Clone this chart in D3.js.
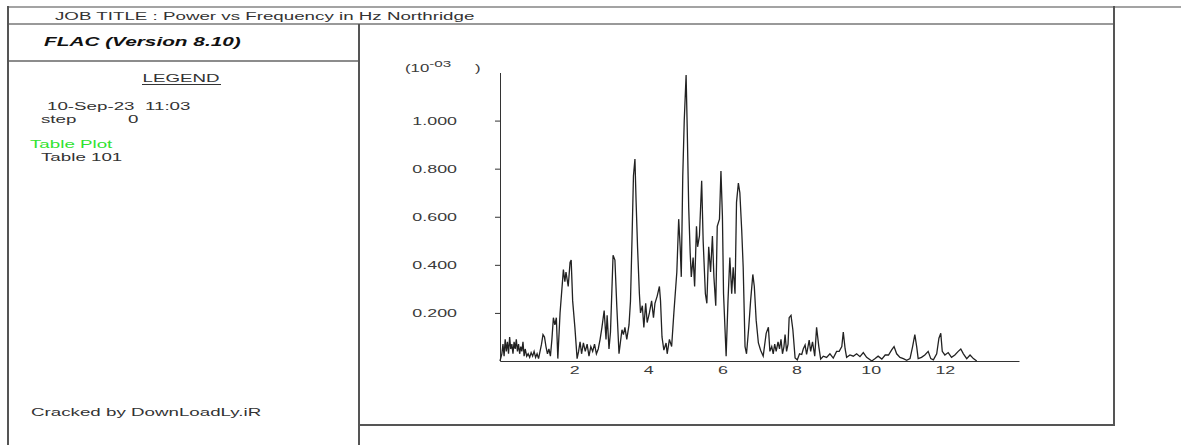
<!DOCTYPE html>
<html>
<head>
<meta charset="utf-8">
<script src="https://cdn.jsdelivr.net/npm/d3@7"></script>
<style>
  html, body { margin: 0; padding: 0; background: #fff; }
  svg { display: block; }
  text { font-family: "Liberation Sans", Arial, sans-serif; fill: #333; white-space: pre; }
</style>
</head>
<body>
<div id="chart"></div>
<script>
// Power spectrum, Table 101 (frequency in Hz, power in units of 1e-3)
const freqHz = [
  0.00, 0.05, 0.08, 0.11, 0.14, 0.17, 0.20, 0.23, 0.26, 0.29, 0.32, 0.35, 0.38, 0.41, 0.44, 0.47,
  0.50, 0.53, 0.56, 0.59, 0.62, 0.65, 0.68, 0.72, 0.76, 0.80, 0.84, 0.88, 0.92, 0.96, 1.00, 1.04,
  1.08, 1.12, 1.16, 1.20, 1.24, 1.28, 1.32, 1.36, 1.40, 1.44, 1.48, 1.52, 1.56, 1.62, 1.67, 1.71,
  1.75, 1.78, 1.84, 1.89, 1.92, 1.96, 2.02, 2.08, 2.12, 2.16, 2.20, 2.25, 2.30, 2.35, 2.40, 2.45,
  2.50, 2.55, 2.60, 2.65, 2.70, 2.75, 2.81, 2.86, 2.89, 2.94, 2.98, 3.05, 3.10, 3.15, 3.21, 3.29,
  3.33, 3.37, 3.42, 3.48, 3.52, 3.56, 3.60, 3.64, 3.67, 3.71, 3.76, 3.79, 3.84, 3.88, 3.93, 3.97,
  4.03, 4.09, 4.14, 4.18, 4.24, 4.30, 4.33, 4.37, 4.42, 4.48, 4.51, 4.57, 4.63, 4.69, 4.77, 4.82,
  4.86, 4.89, 4.93, 4.97, 5.02, 5.05, 5.09, 5.13, 5.16, 5.21, 5.25, 5.30, 5.33, 5.38, 5.44, 5.48,
  5.54, 5.58, 5.63, 5.68, 5.73, 5.77, 5.82, 5.86, 5.92, 5.96, 6.00, 6.03, 6.10, 6.15, 6.20, 6.25,
  6.29, 6.34, 6.38, 6.43, 6.47, 6.52, 6.56, 6.61, 6.65, 6.71, 6.76, 6.82, 6.86, 6.91, 6.97, 7.03,
  7.10, 7.18, 7.24, 7.28, 7.33, 7.37, 7.41, 7.45, 7.50, 7.54, 7.58, 7.62, 7.66, 7.69, 7.73, 7.77,
  7.80, 7.85, 7.90, 7.96, 8.02, 8.08, 8.14, 8.18, 8.23, 8.27, 8.34, 8.38, 8.43, 8.49, 8.54, 8.60,
  8.65, 8.72, 8.81, 8.90, 8.99, 9.08, 9.15, 9.22, 9.26, 9.31, 9.35, 9.44, 9.53, 9.62, 9.71, 9.80,
  9.89, 10.03, 10.12, 10.20, 10.30, 10.39, 10.48, 10.57, 10.63, 10.70, 10.79, 10.88, 10.97, 11.06, 11.13, 11.19,
  11.24, 11.28, 11.37, 11.46, 11.55, 11.62, 11.69, 11.78, 11.84, 11.89, 11.93, 12.00, 12.09, 12.18, 12.27, 12.36,
  12.43, 12.50, 12.59, 12.68, 12.77, 12.86
];
const powerE3 = [
  0.00, 0.03, 0.07, 0.02, 0.09, 0.04, 0.08, 0.03, 0.10, 0.05, 0.07, 0.03, 0.08, 0.05, 0.09, 0.04,
  0.07, 0.03, 0.06, 0.04, 0.08, 0.02, 0.05, 0.02, 0.03, 0.015, 0.035, 0.02, 0.04, 0.015, 0.03, 0.01,
  0.04, 0.07, 0.11, 0.10, 0.06, 0.03, 0.05, 0.02, 0.09, 0.18, 0.15, 0.18, 0.01, 0.20, 0.30, 0.38,
  0.33, 0.37, 0.31, 0.41, 0.42, 0.25, 0.14, 0.01, 0.04, 0.08, 0.03, 0.075, 0.04, 0.07, 0.02, 0.06,
  0.04, 0.07, 0.03, 0.05, 0.09, 0.14, 0.21, 0.09, 0.19, 0.05, 0.12, 0.44, 0.42, 0.23, 0.03, 0.13,
  0.11, 0.14, 0.09, 0.15, 0.25, 0.50, 0.77, 0.84, 0.67, 0.475, 0.28, 0.20, 0.23, 0.14, 0.24, 0.16,
  0.20, 0.25, 0.18, 0.24, 0.27, 0.31, 0.25, 0.10, 0.045, 0.075, 0.03, 0.09, 0.06, 0.20, 0.37, 0.59,
  0.475, 0.35, 0.77, 1.00, 1.19, 0.97, 0.64, 0.45, 0.35, 0.43, 0.31, 0.56, 0.475, 0.52, 0.75, 0.50,
  0.28, 0.24, 0.475, 0.37, 0.52, 0.35, 0.23, 0.56, 0.59, 0.79, 0.60, 0.28, 0.02, 0.25, 0.43, 0.28,
  0.39, 0.28, 0.66, 0.74, 0.70, 0.545, 0.39, 0.06, 0.03, 0.14, 0.25, 0.36, 0.31, 0.17, 0.075, 0.045,
  0.02, 0.115, 0.14, 0.04, 0.06, 0.03, 0.07, 0.04, 0.08, 0.05, 0.09, 0.03, 0.06, 0.11, 0.04, 0.07,
  0.18, 0.19, 0.13, 0.013, 0.005, 0.03, 0.027, 0.05, 0.067, 0.027, 0.087, 0.04, 0.08, 0.02, 0.14, 0.06,
  0.008, 0.02, 0.015, 0.03, 0.012, 0.04, 0.04, 0.06, 0.12, 0.05, 0.015, 0.025, 0.02, 0.03, 0.018, 0.035,
  0.015, 0.00, 0.01, 0.02, 0.008, 0.025, 0.025, 0.047, 0.06, 0.03, 0.015, 0.01, 0.003, 0.01, 0.06, 0.11,
  0.06, 0.01, 0.015, 0.025, 0.04, 0.01, 0.005, 0.03, 0.095, 0.115, 0.04, 0.025, 0.035, 0.015, 0.025, 0.04,
  0.05, 0.03, 0.01, 0.025, 0.01, 0.00
];
const yTicks = [0.2, 0.4, 0.6, 0.8, 1.0];
const xTicks = [2, 4, 6, 8, 10, 12];
const jobTitle = "JOB TITLE : Power vs Frequency in Hz Northridge";
const programName = "FLAC (Version 8.10)";
const legendLines = ["10-Sep-23  11:03"];
const stepLabel = "step";
const stepValue = "0";
const plotTypeLabel = "Table Plot";
const tableLabel = "Table 101";
const footerLabel = "Cracked by DownLoadLy.iR";

const W = 1181, H = 445;
const STRETCH = 1.63;   // wide screen-font look of the plot output

const svg = d3.select("#chart").append("svg")
  .attr("width", W).attr("height", H);

// horizontally stretched text helper
function label(x, y, str, opts = {}) {
  const s = opts.stretch || STRETCH;
  return svg.append("text")
    .attr("transform", `translate(${x},${y}) scale(${s},1)`)
    .attr("text-anchor", opts.anchor || "start")
    .style("font-size", (opts.size || 11.5) + "px")
    .style("font-weight", opts.weight || "normal")
    .style("font-style", opts.style || "normal")
    .style("fill", opts.fill || "#333")
    .text(str);
}

// ---- page frame ----
const frame = svg.append("g").attr("fill", "none");
frame.append("line").attr("x1", 8).attr("x2", W).attr("y1", 7).attr("y2", 7)
  .attr("stroke", "#a3a3a3").attr("stroke-width", 2);
frame.append("line").attr("x1", 8).attr("x2", 1114).attr("y1", 24).attr("y2", 24)
  .attr("stroke", "#777").attr("stroke-width", 1.5);
frame.append("line").attr("x1", 8).attr("x2", 359).attr("y1", 61).attr("y2", 61)
  .attr("stroke", "#666").attr("stroke-width", 1.5);
frame.append("line").attr("x1", 8).attr("x2", 8).attr("y1", 6).attr("y2", H)
  .attr("stroke", "#555").attr("stroke-width", 2);
frame.append("line").attr("x1", 359).attr("x2", 359).attr("y1", 24).attr("y2", H)
  .attr("stroke", "#555").attr("stroke-width", 2);
frame.append("line").attr("x1", 1114).attr("x2", 1114).attr("y1", 6).attr("y2", 426)
  .attr("stroke", "#555").attr("stroke-width", 2);
frame.append("line").attr("x1", 359).attr("x2", 1115).attr("y1", 425).attr("y2", 425)
  .attr("stroke", "#555").attr("stroke-width", 2);

// ---- header and legend panel ----
label(55, 20, jobTitle, { size: 11.5 });
label(44, 46, programName, { size: 13, weight: "bold", style: "italic", stretch: 1.6, fill: "#111" });

label(181, 81.5, "LEGEND", { anchor: "middle" });
svg.append("line").attr("x1", 142).attr("x2", 221).attr("y1", 84.5).attr("y2", 84.5)
  .attr("stroke", "#333").attr("stroke-width", 1);

legendLines.forEach((t, i) => label(47, 110 + i * 12.5, t));
label(41, 122.5, stepLabel);
label(128, 122.5, stepValue);
label(30, 147.5, plotTypeLabel, { fill: "#2fe32f" });
label(41, 160.5, tableLabel);
label(31, 415.5, footerLabel);

// ---- plot ----
const x = d3.scaleLinear().domain([0, 14]).range([500, 1019]);
const y = d3.scaleLinear().domain([0, 1.2]).range([361, 72.5]);

const yAxis = svg.append("g")
  .attr("transform", `translate(${x(0)},0)`)
  .call(d3.axisLeft(y).tickValues(yTicks).tickSize(5).tickSizeOuter(0)
    .tickFormat(d3.format(".3f")));
yAxis.select(".domain").attr("stroke", "#333");
yAxis.selectAll(".tick line").attr("stroke", "#333");
yAxis.selectAll(".tick text")
  .attr("x", null).attr("dy", null)
  .attr("transform", "translate(-43,3.6) scale(1.7,1)")
  .attr("text-anchor", "end")
  .style("font-family", '"Liberation Sans", Arial, sans-serif')
  .style("font-size", "10.5px")
  .style("fill", "#3a3a3a");

const xAxis = svg.append("g")
  .attr("transform", `translate(0,${y(0)})`)
  .call(d3.axisBottom(x).tickValues(xTicks).tickSize(0).tickSizeOuter(0)
    .tickFormat(d3.format("d")));
xAxis.select(".domain").attr("stroke", "#333");
xAxis.selectAll(".tick text")
  .attr("y", null).attr("dy", null)
  .attr("transform", "translate(0,13) scale(1.7,1)")
  .attr("text-anchor", "middle")
  .style("font-family", '"Liberation Sans", Arial, sans-serif')
  .style("font-size", "10.5px")
  .style("fill", "#3a3a3a");

// multiplier note above the y axis
const mult = svg.append("text")
  .attr("transform", "translate(405,72) scale(1.6,1)")
  .style("font-size", "10.5px")
  .style("fill", "#3a3a3a");
mult.append("tspan").text("(10");
mult.append("tspan").attr("dy", -5.5).style("font-size", "9.5px").text("-03");
svg.append("text")
  .attr("transform", "translate(475,72) scale(1.6,1)")
  .style("font-size", "10.5px")
  .style("fill", "#3a3a3a")
  .text(")");

// spectrum line
const series = freqHz.map((f, i) => ({ f, p: powerE3[i] }));
svg.append("path")
  .datum(series)
  .attr("fill", "none")
  .attr("stroke", "#222")
  .attr("stroke-width", 1.3)
  .attr("stroke-linejoin", "miter")
  .attr("d", d3.line().x(d => x(d.f)).y(d => y(d.p)));
</script>
</body>
</html>
